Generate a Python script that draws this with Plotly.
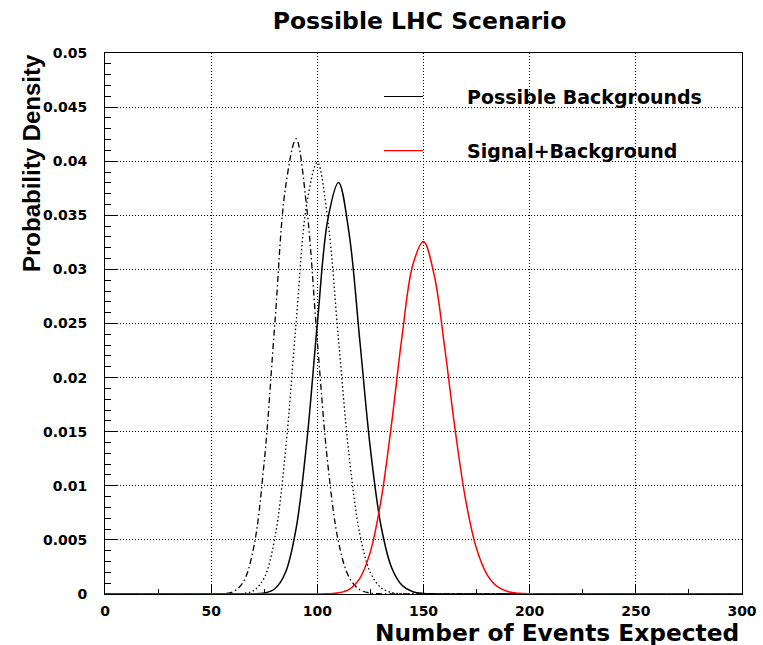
import plotly.graph_objects as go

# ---- data ----
events = [0, 5, 10, 15, 20, 25, 30, 35, 40, 45,
          50, 55, 60, 65, 70, 75, 80, 85, 90, 95,
          100, 105, 110, 115, 120, 125, 130, 135, 140, 145,
          150, 155, 160, 165, 170, 175, 180, 185, 190, 195,
          200, 205, 210, 215, 220, 225, 230, 235, 240, 245,
          250, 255, 260, 265, 270, 275, 280, 285, 290, 295,
          300]

bkg_90 = [0, 0, 0, 0, 0, 0, 0, 0, 0, 0,
          0.0000016, 0.0000208, 0.000178, 0.001058, 0.004294, 0.01224, 0.02504, 0.03756, 0.04205, 0.03571,
          0.02334, 0.01189, 0.004785, 0.001535, 0.000396, 0.000083, 0.0000143, 0.000002, 0, 0,
          0, 0, 0, 0, 0, 0, 0, 0, 0, 0,
          0, 0, 0, 0, 0, 0, 0, 0, 0, 0,
          0, 0, 0, 0, 0, 0, 0, 0, 0, 0,
          0]

bkg_100 = [0, 0, 0, 0, 0, 0, 0, 0, 0, 0,
           0, 0.0000003, 0.0000045, 0.0000452, 0.000311, 0.001502, 0.005205, 0.013224, 0.02506, 0.03604,
           0.03989, 0.03443, 0.02344, 0.012726, 0.005565, 0.001977, 0.000576, 0.000138, 0.0000277, 0.0000046,
           0, 0, 0, 0, 0, 0, 0, 0, 0, 0,
           0, 0, 0, 0, 0, 0, 0, 0, 0, 0,
           0, 0, 0, 0, 0, 0, 0, 0, 0, 0,
           0]

bkg_110 = [0, 0, 0, 0, 0, 0, 0, 0, 0, 0,
           0, 0, 0, 0.000001, 0.0000112, 0.0000868, 0.000484, 0.001981, 0.006049, 0.014003,
           0.02496, 0.0347, 0.03804, 0.03327, 0.02343, 0.013405, 0.006284, 0.002432, 0.000783, 0.000211,
           0.0000479, 0.0000092, 0, 0, 0, 0, 0, 0, 0, 0,
           0, 0, 0, 0, 0, 0, 0, 0, 0, 0,
           0, 0, 0, 0, 0, 0, 0, 0, 0, 0,
           0]

sig_bkg_150 = [0, 0, 0, 0, 0, 0, 0, 0, 0, 0,
               0, 0, 0, 0, 0, 0, 0, 0, 0, 0,
               0.0000031, 0.0000205, 0.000106, 0.000437, 0.001452, 0.003915, 0.008654, 0.015797, 0.023975, 0.03045,
               0.03257, 0.029506, 0.02276, 0.015022, 0.008527, 0.004179, 0.001776, 0.000657, 0.000213, 0.0000603,
               0.000015, 0.000003, 0, 0, 0, 0, 0, 0, 0, 0,
               0, 0, 0, 0, 0, 0, 0, 0, 0, 0,
               0]

title_text = "Possible LHC Scenario"
x_title = "Number of Events Expected"
y_title = "Probability Density"
legend_labels = ["Possible Backgrounds", "Signal+Background"]

# ---- figure ----
TXT = "DejaVu Sans"
fig = go.Figure()

fig.add_trace(go.Scatter(x=events, y=bkg_90, mode="lines", name="B=90",
                         line=dict(color="black", width=1.3, dash="6px,3px,1.5px,3px", shape="spline"),
                         showlegend=False))
fig.add_trace(go.Scatter(x=events, y=bkg_100, mode="lines", name="B=100",
                         line=dict(color="black", width=1.3, dash="1.5px,2.5px", shape="spline"),
                         showlegend=False))
fig.add_trace(go.Scatter(x=events, y=bkg_110, mode="lines", name=legend_labels[0],
                         line=dict(color="black", width=1.5, shape="spline"),
                         showlegend=False))
fig.add_trace(go.Scatter(x=events, y=sig_bkg_150, mode="lines", name=legend_labels[1],
                         line=dict(color="#ff0000", width=1.5, shape="spline"),
                         showlegend=False))

W, H = 763, 645
L, R, T, B = 105, 21, 53, 51
pw, ph = W - L - R, H - T - B

def px_x(p):
    return (p - L) / pw

def px_y(p):
    return (H - B - p) / ph

fig.update_layout(
    width=W, height=H, autosize=False,
    margin=dict(l=L, r=R, t=T, b=B, autoexpand=False),
    paper_bgcolor="white", plot_bgcolor="white",
    showlegend=False,
    title=dict(text="<b>" + title_text + "</b>", x=419.5 / W, xanchor="center",
               y=1 - 21 / H, yanchor="middle",
               font=dict(family=TXT, size=23.5, color="black")),
    xaxis=dict(range=[0, 300], dtick=50, tick0=0, automargin=False,
               showline=True, linecolor="black", linewidth=1, mirror=True,
               ticks="inside", ticklen=10, tickcolor="black", tickwidth=1,
               minor=dict(dtick=25, ticks="inside", ticklen=5, tickcolor="black", showgrid=False),
               showgrid=True, gridcolor="black", gridwidth=1, griddash="1px,2px",
               zeroline=False, layer="below traces",
               tickfont=dict(family=TXT, size=14, color="black", weight="bold"),
               ticklabelstandoff=4),
    yaxis=dict(range=[0, 0.05], dtick=0.005, tick0=0, automargin=False,
               showline=True, linecolor="black", linewidth=1, mirror=True,
               ticks="inside", ticklen=12, tickcolor="black", tickwidth=1,
               minor=dict(dtick=0.001, ticks="inside", ticklen=6, tickcolor="black", showgrid=False),
               showgrid=True, gridcolor="black", gridwidth=1, griddash="1px,2px",
               zeroline=False, layer="below traces",
               tickfont=dict(family=TXT, size=14, color="black", weight="bold"),
               ticklabelstandoff=14),
)

# axis titles
fig.add_annotation(text="<b>" + x_title + "</b>", xref="paper", yref="paper",
                   x=px_x(741), y=px_y(632), xanchor="right", yanchor="middle",
                   showarrow=False, font=dict(family=TXT, size=23.3, color="black"))
fig.add_annotation(text="<b>" + y_title + "</b>", xref="paper", yref="paper",
                   x=px_x(31), y=px_y(163), xanchor="center", yanchor="middle",
                   textangle=-90, showarrow=False,
                   font=dict(family="Liberation Sans", size=24, color="black"))

# legend (line samples + labels)
leg_colors = ["black", "#ff0000"]
leg_rows = [96.5, 150.7]
for lab, col, row in zip(legend_labels, leg_colors, leg_rows):
    fig.add_shape(type="line", xref="paper", yref="paper",
                  x0=px_x(384), x1=px_x(423), y0=px_y(row), y1=px_y(row),
                  line=dict(color=col, width=1.2))
    fig.add_annotation(text="<b>" + lab + "</b>", xref="paper", yref="paper",
                       x=px_x(465), y=px_y(row), xanchor="left", yanchor="middle",
                       showarrow=False, font=dict(family=TXT, size=19, color="black"))

fig.write_html("out.html",
               config={"displayModeBar": False, "responsive": False},
               post_script="document.body.style.margin='0';document.body.style.overflow='hidden';")
